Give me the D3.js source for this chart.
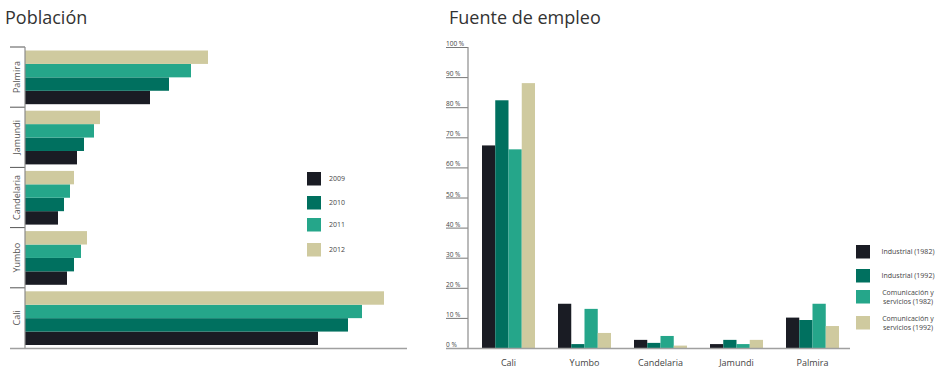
<!DOCTYPE html>
<html>
<head>
<meta charset="utf-8">
<script src="https://cdn.jsdelivr.net/npm/d3@7"></script>
<style>
  body { margin: 0; background: #fff; }
  text { font-family: "Open Sans", "Noto Sans", sans-serif; }
</style>
</head>
<body>
<svg id="chart" width="938" height="371"></svg>
<script>
// población (bar length, arbitrary units)
const cities = ['Palmira', 'Jamundi', 'Candelaria', 'Yumbo', 'Cali'];
const years = ['2009', '2010', '2011', '2012'];
const pop2009 = [125, 52, 33, 42, 293];
const pop2010 = [144, 59, 39, 49, 323];
const pop2011 = [166, 69, 45, 56, 337];
const pop2012 = [183, 75, 49, 62, 359];

// fuente de empleo (%)
const empCities = ['Cali', 'Yumbo', 'Candelaria', 'Jamundi', 'Palmira'];
const empSeries = ['Industrial (1982)', 'Industrial (1992)', 'Comunicación y servicios (1982)', 'Comunicación y servicios (1992)'];
const ind1982 = [67.3, 14.7, 2.7, 1.3, 10.1];
const ind1992 = [82.3, 1.3, 1.7, 2.7, 9.3];
const com1982 = [66, 13, 4, 1.3, 14.7];
const com1992 = [88, 5, 0.8, 2.7, 7.3];
const yTicks = [0, 10, 20, 30, 40, 50, 60, 70, 80, 90, 100];

const colors = ['#1a1c24', '#00705f', '#25a68a', '#cfca9f'];
const axisGrey = '#8c8c8c';

const svg = d3.select('#chart');

// ---------- Población ----------
svg.append('text').attr('x', 5).attr('y', 24).style('font-size', '18px').style('fill', '#333').text('Población');

const popSeries = [pop2009, pop2010, pop2011, pop2012];
const y1 = d3.scaleBand().domain(cities).range([47, 348]);
const ySub = d3.scaleBand().domain(['2012', '2011', '2010', '2009']).range([3.5, y1.bandwidth() - 3]);
const x1 = d3.scaleLinear().domain([0, 382]).range([25, 407]);

const g1 = svg.append('g');
cities.forEach((c, i) => {
    g1.selectAll(null).data(years).enter().append('rect')
        .attr('x', x1(0))
        .attr('y', yr => y1(c) + ySub(yr))
        .attr('width', (yr, j) => x1(popSeries[j][i]) - x1(0))
        .attr('height', ySub.bandwidth())
        .attr('fill', (yr, j) => colors[j]);
    g1.append('text')
        .attr('transform', `translate(20, ${y1(c) + y1.bandwidth() / 2}) rotate(-90)`)
        .attr('text-anchor', 'middle').style('font-size', '9px').style('fill', '#555').text(c);
});
// separators
g1.selectAll(null).data(cities).enter().append('line')
    .attr('x1', 10).attr('x2', 25).attr('y1', c => y1(c)).attr('y2', c => y1(c))
    .style('stroke', '#555').style('stroke-width', 1);
g1.append('line').attr('x1', 25).attr('x2', 25).attr('y1', 47).attr('y2', 348).style('stroke', axisGrey).style('stroke-width', 1.2);
g1.append('line').attr('x1', 10).attr('x2', 407).attr('y1', 348.5).attr('y2', 348.5).style('stroke', '#a0a0a0').style('stroke-width', 1.5);

// legend
const legY = [172, 196, 218, 243];
years.forEach((yr, j) => {
    g1.append('rect').attr('x', 307).attr('y', legY[j]).attr('width', 14).attr('height', 13.5).attr('fill', colors[j]);
    g1.append('text').attr('x', 329).attr('y', legY[j] + 9).style('font-size', '7px').style('fill', '#444').text(yr);
});

// ---------- Fuente de empleo ----------
svg.append('text').attr('x', 449).attr('y', 24).style('font-size', '18px').style('fill', '#333').text('Fuente de empleo');

const empData = [ind1982, ind1992, com1982, com1992];
const x2 = d3.scaleBand().domain(empCities).range([468, 848]);
const xSub = d3.scaleBand().domain(empSeries).range([14, 67]);
const y2 = d3.scaleLinear().domain([0, 100]).range([348, 47]);

const g2 = svg.append('g');
empCities.forEach((c, i) => {
    g2.selectAll(null).data(empSeries).enter().append('rect')
        .attr('x', s => x2(c) + xSub(s))
        .attr('y', (s, j) => y2(empData[j][i]))
        .attr('width', xSub.bandwidth())
        .attr('height', (s, j) => y2(0) - y2(empData[j][i]))
        .attr('fill', (s, j) => colors[j]);
    g2.append('text').attr('x', x2(c) + 40.5).attr('y', 366)
        .attr('text-anchor', 'middle').style('font-size', '9px').style('fill', '#444').text(c);
});

// y axis with underlined tick labels
const yAxis = g2.append('g').attr('transform', 'translate(468, 0)')
    .call(d3.axisLeft(y2).tickValues(yTicks).tickSize(22).tickFormat(d => d + ' %'));
yAxis.select('.domain').remove();
yAxis.selectAll('.tick line').style('stroke', '#555').style('stroke-width', 0.8);
yAxis.selectAll('.tick text').attr('x', -22).attr('dy', '-1.5px').attr('text-anchor', 'start')
    .style('font-size', '6.5px').style('fill', '#444').style('font-family', '"Open Sans", sans-serif');
g2.append('line').attr('x1', 468).attr('x2', 468).attr('y1', 47).attr('y2', 348).style('stroke', axisGrey).style('stroke-width', 1.2);
g2.append('line').attr('x1', 446).attr('x2', 850).attr('y1', 348.5).attr('y2', 348.5).style('stroke', '#a0a0a0').style('stroke-width', 1.5);

// legend
const leg2Y = [245, 269, 290, 316];
const leg2Lines = [['Industrial (1982)'], ['Industrial (1992)'], ['Comunicación y', 'servicios (1982)'], ['Comunicación y', 'servicios (1992)']];
empSeries.forEach((s, j) => {
    g2.append('rect').attr('x', 856).attr('y', leg2Y[j]).attr('width', 14).attr('height', 13.5).attr('fill', colors[j]);
    const t = g2.append('text').attr('text-anchor', 'middle').style('font-size', '7px').style('fill', '#444');
    const lines = leg2Lines[j];
    lines.forEach((l, k) => {
        t.append('tspan').attr('x', 908)
            .attr('y', leg2Y[j] + 9 + (lines.length === 1 ? 0 : (k === 0 ? -4 : 5)))
            .text(l);
    });
});
</script>
</body>
</html>
